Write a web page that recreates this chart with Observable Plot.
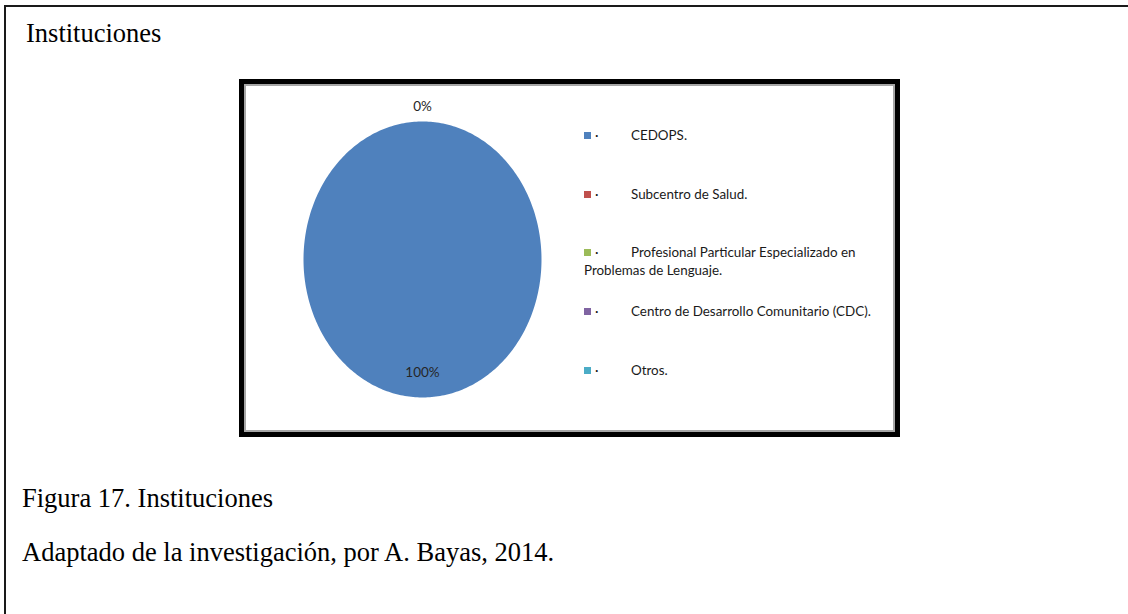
<!DOCTYPE html>
<html>
<head>
<meta charset="utf-8">
<script src="https://cdn.jsdelivr.net/npm/d3@7"></script>
<script src="https://cdn.jsdelivr.net/npm/@observablehq/plot@0.6"></script>
<style>
  html, body { margin: 0; padding: 0; background: #fff; }
  body { width: 1128px; height: 614px; position: relative; overflow: hidden; }
  .frame { position: absolute; left: 4px; top: 5px; width: 1130px; height: 620px;
           border-top: 2px solid #1a1a1a; border-left: 2px solid #1a1a1a; }
  .serif { position: absolute; left: 26px; font-family: "Liberation Serif", "Times New Roman", serif;
           font-size: 26.5px; line-height: 26px; color: #000; white-space: nowrap; }
  .box { position: absolute; left: 239px; top: 79px; width: 661px; height: 358px; box-sizing: border-box;
         border: 5px solid #000; }
  .inner { position: absolute; left: 0; top: 0; right: 0; bottom: 0; border: 2px solid #a6a6a6; background: #fff; }
  #chart { position: absolute; left: 0; top: 0; }
  .legend { position: absolute; left: 338px; top: 0; font-family: Lato, "Open Sans", sans-serif;
            font-size: 13.4px; color: #1a1a1a; }
  .item { position: absolute; left: 0; white-space: nowrap; line-height: 18px; }
  .sw { position: absolute; left: 0; width: 7px; height: 7px; }
  .bul { position: absolute; left: 11px; }
  .lab { position: absolute; left: 47px; }
  .lab2 { position: absolute; left: 0; top: 18px; }
</style>
</head>
<body>
<div class="frame"></div>
<div class="serif" style="top:20px">Instituciones</div>
<div class="box"><div class="inner"><div id="chart"></div><div class="legend" id="legend"></div></div></div>
<div class="serif" style="top:485px;left:22px">Figura 17. Instituciones</div>
<div class="serif" style="top:539px;left:22px">Adaptado de la investigación, por A. Bayas, 2014.</div>
<script>
// ---- data ----
const categories = [
  "CEDOPS.",
  "Subcentro de Salud.",
  "Profesional Particular Especializado en Problemas de Lenguaje.",
  "Centro de Desarrollo Comunitario (CDC).",
  "Otros."
];
const values = [100, 0, 0, 0, 0];
const colors = ["#4F81BD", "#C0504D", "#9BBB59", "#8064A2", "#4BACC6"];
// legend lines (as wrapped in the reference)
const legendLines = [
  ["CEDOPS."],
  ["Subcentro de Salud."],
  ["Profesional Particular Especializado en", "Problemas de Lenguaje."],
  ["Centro de Desarrollo Comunitario (CDC)."],
  ["Otros."]
];

// ---- pie geometry via d3.pie ----
const total = d3.sum(values);
const arcs = d3.pie().sort(null).value(d => d)(values);
const slices = [];
arcs.forEach((a, i) => {
  const n = Math.max(2, Math.ceil((a.endAngle - a.startAngle) / (2 * Math.PI) * 360));
  slices.push({cat: categories[i], t: 0, x: 0, y: 0});
  for (let k = 0; k <= n; k++) {
    const ang = a.startAngle + (a.endAngle - a.startAngle) * k / n;
    slices.push({cat: categories[i], t: k + 1, x: Math.sin(ang), y: Math.cos(ang)});
  }
});
const labelsAll = arcs.map((a, i) => {
  const mid = (a.startAngle + a.endAngle) / 2;
  const r = values[i] > 0 ? 0.82 : 1.11;
  return {cat: categories[i], x: r * Math.sin(mid), y: r * Math.cos(mid), text: d3.format(".0%")(values[i] / total)};
});
const seen = new Set();
const labels = labelsAll.filter(d => {
  const key = d.x.toFixed(3) + "," + d.y.toFixed(3);
  if (seen.has(key)) return false;
  seen.add(key);
  return true;
});

const W = 647, H = 344;
const chart = Plot.plot({
  width: W,
  height: H,
  marginLeft: 57,
  marginRight: 352,
  marginTop: 35,
  marginBottom: 33,
  x: {domain: [-1, 1], axis: null},
  y: {domain: [-1, 1], axis: null},
  color: {domain: categories, range: colors},
  style: {background: "transparent", overflow: "visible"},
  marks: [
    Plot.line(slices, {x: "x", y: "y", z: "cat", fill: "cat", stroke: "none", curve: "linear"}),
    Plot.text(labels, {x: "x", y: "y", text: "text", fill: "#262626",
      fontFamily: "Lato, 'Open Sans', sans-serif", fontSize: 13.5})
  ]
});
document.getElementById("chart").appendChild(chart);

// ---- legend ----
const legend = document.getElementById("legend");
const rowTops = [40, 99, 157, 216, 275];
categories.forEach((c, i) => {
  const it = document.createElement("div");
  it.className = "item";
  it.style.top = rowTops[i] + "px";
  it.innerHTML = `<div class="sw" style="top:6px;background:${colors[i]}"></div><span class="bul">·</span><span class="lab">${legendLines[i][0]}</span>` +
    (legendLines[i][1] ? `<span class="lab2">${legendLines[i][1]}</span>` : "");
  legend.appendChild(it);
});
</script>
</body>
</html>
